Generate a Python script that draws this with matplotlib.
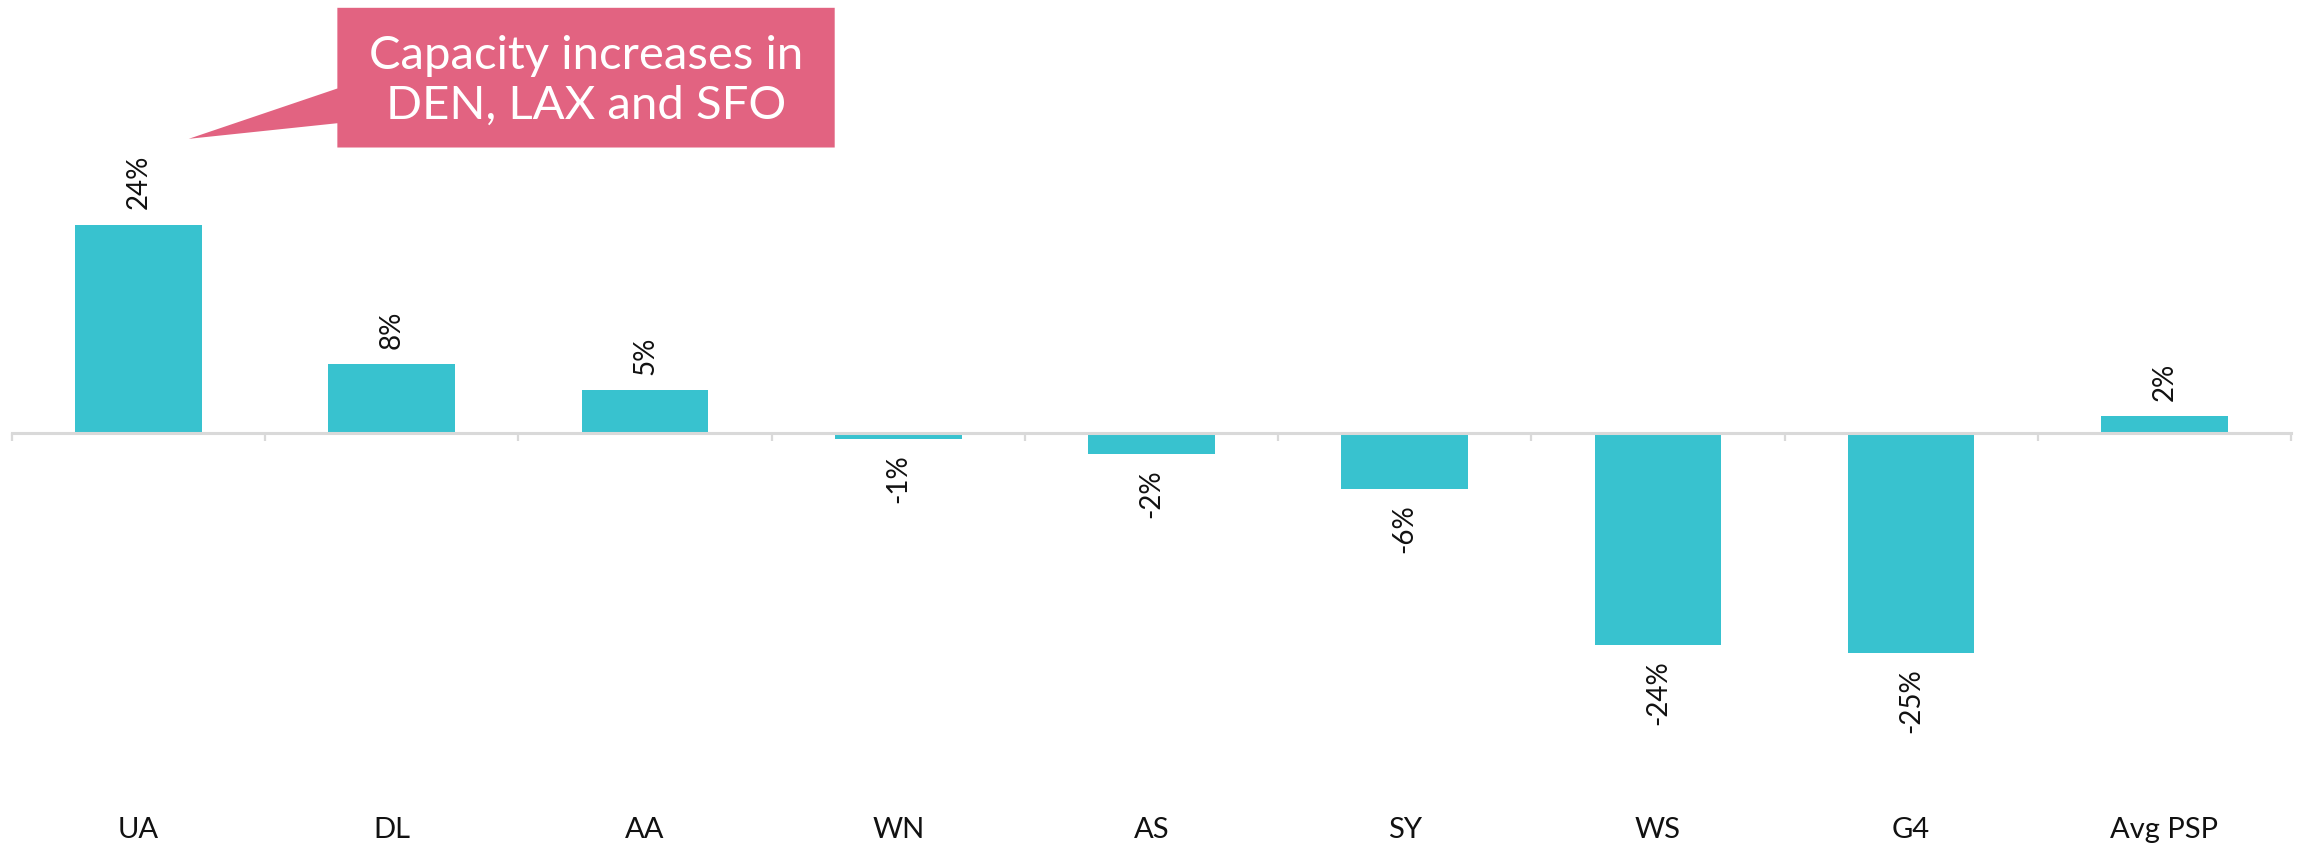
import numpy as np
import matplotlib

matplotlib.use("Agg")
import matplotlib.pyplot as plt  # noqa: E402
from matplotlib.patches import Polygon  # noqa: E402

# data (capacity change, %)
carriers = ["UA", "DL", "AA", "WN", "AS", "SY", "WS", "G4", "Avg PSP"]
change_pct = [24.0, 7.9, 4.9, -0.7, -2.4, -6.4, -24.4, -25.3, 1.9]
value_labels = ["24%", "8%", "5%", "-1%", "-2%", "-6%", "-24%", "-25%", "2%"]
callout_text = "Capacity increases in\nDEN, LAX and SFO"

BAR = "#38C2CF"
CALLOUT = "#E26381"
AXIS = "#D9D9D9"
FONT = "Lato"

plt.rcParams["font.family"] = [FONT, "DejaVu Sans"]

fig = plt.figure(figsize=(23, 8.5), dpi=100)
ax = fig.add_axes([0.0052, 0.0588, 0.9909, 0.9412])

x = np.arange(len(carriers))
ax.bar(x, change_pct, width=0.5, color=BAR, zorder=2)

ax.set_xlim(-0.5, len(carriers) - 0.5)
ax.set_ylim(-42.3, 49.9)

# axis line through zero with small boundary ticks
for side in ("top", "left", "right"):
    ax.spines[side].set_visible(False)
ax.spines["bottom"].set_position(("data", 0))
ax.spines["bottom"].set_color(AXIS)
ax.spines["bottom"].set_linewidth(2.2)
ax.spines["bottom"].set_zorder(3)
ax.set_yticks([])
ax.set_xticks([])
ax.set_xticks(np.arange(len(carriers) + 1) - 0.5, minor=True)
ax.tick_params(axis="x", which="minor", direction="out", length=6,
               width=1.6, color=AXIS, labelbottom=False)

# category names along the bottom
sec = ax.secondary_xaxis(0.0)
sec.set_xticks(x, carriers)
sec.tick_params(length=0, pad=12, labelsize=21, labelcolor="#111111")
sec.spines["bottom"].set_visible(False)

# rotated value labels
for xi, v, lab in zip(x, change_pct, value_labels):
    off = 11 if v >= 0 else -11
    ax.annotate(lab, (xi, v), xytext=(0, off), textcoords="offset points",
                rotation=90, ha="center", va="bottom" if v >= 0 else "top",
                fontsize=20, color="#111111")

# callout box with a tail pointing at UA
box_x0, box_x1 = 0.785, 2.749
box_y0, box_y1 = 32.9, 49.0
tail = [(box_x0, 39.7), (0.198, 33.9), (box_x0, 35.7)]
shape = [(box_x0, box_y1), (box_x1, box_y1), (box_x1, box_y0), (box_x0, box_y0),
         tail[2], tail[1], tail[0]]
ax.add_patch(Polygon(shape, closed=True, facecolor=CALLOUT, edgecolor="none",
                     zorder=4, clip_on=False))
ax.text((box_x0 + box_x1) / 2, (box_y0 + box_y1) / 2 - 0.4, callout_text,
        ha="center", va="center", fontsize=34, color="white",
        linespacing=1.22, zorder=5)

fig.savefig("out.png", dpi=100, facecolor="white")
